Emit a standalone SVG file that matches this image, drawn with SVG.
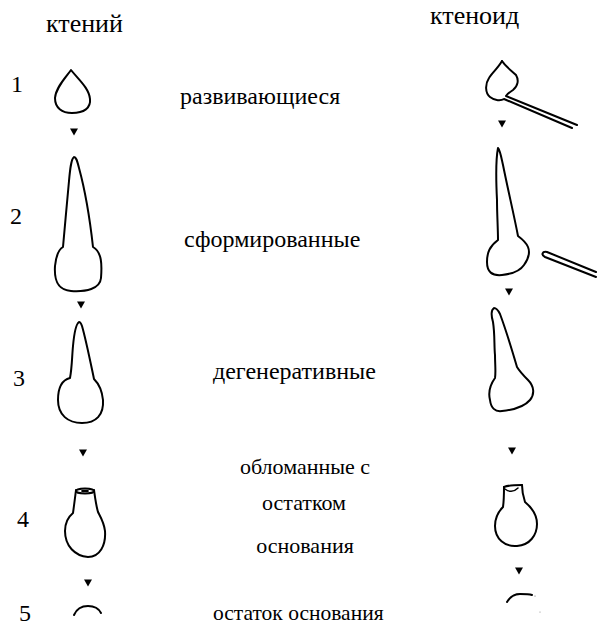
<svg xmlns="http://www.w3.org/2000/svg" width="601" height="629" viewBox="0 0 601 629">
  <style>
    .t { fill: #000; }
    .mid { text-anchor: middle; }
    .outline { fill: none; stroke: #000; stroke-width: 2; stroke-linejoin: round; stroke-linecap: round; }
    .thin { fill: none; stroke: #000; stroke-width: 1.5; stroke-linejoin: round; stroke-linecap: round; }
  </style>
  <defs>
    <path id="tri" d="M-4,-3.5 L4,-3.5 L0,3.5 Z" fill="#000"/>
  </defs>
  <rect width="601" height="629" fill="#fff"/>

  <!-- column headings -->
  <g id="headings">
    <text class="t" font-family="'Liberation Serif', serif" font-size="26" x="46" y="32">ктений</text>
    <text class="t" font-family="'Liberation Serif', serif" font-size="26" x="430" y="24">ктеноид</text>
  </g>

  <!-- stage numbers -->
  <g id="numbers">
    <text class="t" font-family="'Liberation Serif', serif" font-size="24" x="11" y="92">1</text>
    <text class="t" font-family="'Liberation Serif', serif" font-size="24" x="10" y="224">2</text>
    <text class="t" font-family="'Liberation Serif', serif" font-size="24" x="13" y="386">3</text>
    <text class="t" font-family="'Liberation Serif', serif" font-size="24" x="17" y="527">4</text>
    <text class="t" font-family="'Liberation Serif', serif" font-size="24" x="19" y="621">5</text>
  </g>

  <!-- stage labels -->
  <g id="labels">
    <text class="t" font-family="'Liberation Serif', serif" font-size="24" x="180" y="104">развивающиеся</text>
    <text class="t" font-family="'Liberation Serif', serif" font-size="24" x="184" y="247">сформированные</text>
    <text class="t" font-family="'Liberation Serif', serif" font-size="24" x="213" y="379">дегенеративные</text>
    <text class="t mid" font-family="'Liberation Serif', serif" font-size="22" x="305" y="474">обломанные с</text>
    <text class="t mid" font-family="'Liberation Serif', serif" font-size="22" x="304" y="510">остатком</text>
    <text class="t mid" font-family="'Liberation Serif', serif" font-size="22" x="305" y="553">основания</text>
    <text class="t" font-family="'Liberation Serif', serif" font-size="21.5" x="213" y="620">остаток основания</text>
  </g>

  <!-- ctenii (left column) -->
  <g id="ctenius-1">
    <path class="outline" d="M71,70 C66,77 56,87 55,98 C55,108 62,113 72,113 C84,113 91,108 90,99 C89,88 78,79 71,70 Z"/>
  </g>
  <g id="ctenius-2">
    <path class="outline" d="M74,157 C71,159 70,170 69,181 C67,201 65,226 63,247 C58,250 56,256 55,266 C54,281 58,290 71,291 C86,292 100,289 101,278 C102,265 102,252 93,247 C90,220 85,190 79,168 C77,160 76,157 74,157 Z"/>
  </g>
  <g id="ctenius-3">
    <path class="outline" d="M79,322 C76,324 74,335 73,346 C72,356 72,368 70,378 C62,380 58,388 58,400 C58,415 68,423 82,423 C96,423 104,415 103,400 C102,390 98,383 94,379 C90,360 86,340 82,326 C81,323 80,322 79,322 Z"/>
  </g>
  <g id="ctenius-4">
    <path class="outline" d="M76,490 C75,498 74,506 73,513 C67,518 65,524 65,531 C65,546 75,556 88,557 C100,557 106,545 105,531 C104,522 100,516 98,512 C96,505 95,497 94,490"/>
    <ellipse class="outline" cx="85" cy="491" rx="9" ry="2.5"/>
    <ellipse cx="85" cy="491" rx="4" ry="1.3" fill="#000"/>
  </g>
  <g id="ctenius-5">
    <path class="outline" d="M74,615 C77,608 83,606 88,606 C94,606 99,609 101,613"/>
  </g>

  <!-- ctenoid (right column) -->
  <g id="ctenoid-1">
    <path class="outline" d="M502,61 C498,68 492,73 489,78 C485,84 485,93 490,97 C495,101 501,101 504,99 L572,128"/>
    <path class="outline" d="M502,61 C506,67 512,71 516,75 C519,80 518,86 513,90 C510,92 507,94 506,96 L577,125"/>
  </g>
  <g id="ctenoid-2">
    <path class="outline" d="M498,148 C496,158 496,180 497,200 C497,215 498,228 498,240 C490,246 487,252 487,262 C487,272 492,276 502,275 C512,274 520,271 524,265 C529,258 530,252 528,247 C526,242 522,239 518,236 C514,215 508,190 503,165 C501,156 500,150 498,148 Z"/>
  </g>
  <g id="ctenoid-2-spine">
    <path class="outline" d="M596,272 L547,252 C542,251 541,255 545,257 L596,277"/>
  </g>
  <g id="ctenoid-3">
    <path class="outline" d="M494,308 C491,310 491,315 493,322 C495,335 494,345 495,355 C495,365 496,372 495,378 C490,385 488,392 490,400 C491,408 495,412 502,411 C512,410 524,407 530,400 C535,394 534,386 528,380 C524,376 520,372 517,367 C512,350 506,330 500,314 C498,310 496,308 494,308 Z"/>
  </g>
  <g id="ctenoid-4">
    <path class="outline" d="M504,487 C504,494 504,500 503,507 C497,513 495,518 495,526 C495,539 505,547 517,546 C530,545 537,535 537,524 C537,514 531,507 525,502 C523,496 522,490 522,485"/>
    <path class="outline" d="M504,487 C509,485 516,485 522,485"/>
    <path class="thin" d="M505,489 C509,492 514,492 518,488"/>
  </g>
  <g id="ctenoid-5">
    <path class="outline" d="M507,602 C510,597 515,594 520,594 C525,594 529,594 532,595"/>
    <circle cx="535" cy="596" r="0.6" fill="#666"/>
    <circle cx="540" cy="612" r="0.6" fill="#888"/>
  </g>

  <!-- succession arrows -->
  <g id="connectors">
    <use href="#tri" x="74" y="132"/>
    <use href="#tri" x="81" y="305"/>
    <use href="#tri" x="83" y="453"/>
    <use href="#tri" x="88" y="583"/>
    <use href="#tri" x="502" y="124"/>
    <use href="#tri" x="509" y="292"/>
    <use href="#tri" x="512" y="451"/>
    <use href="#tri" x="519" y="571"/>
  </g>
</svg>
